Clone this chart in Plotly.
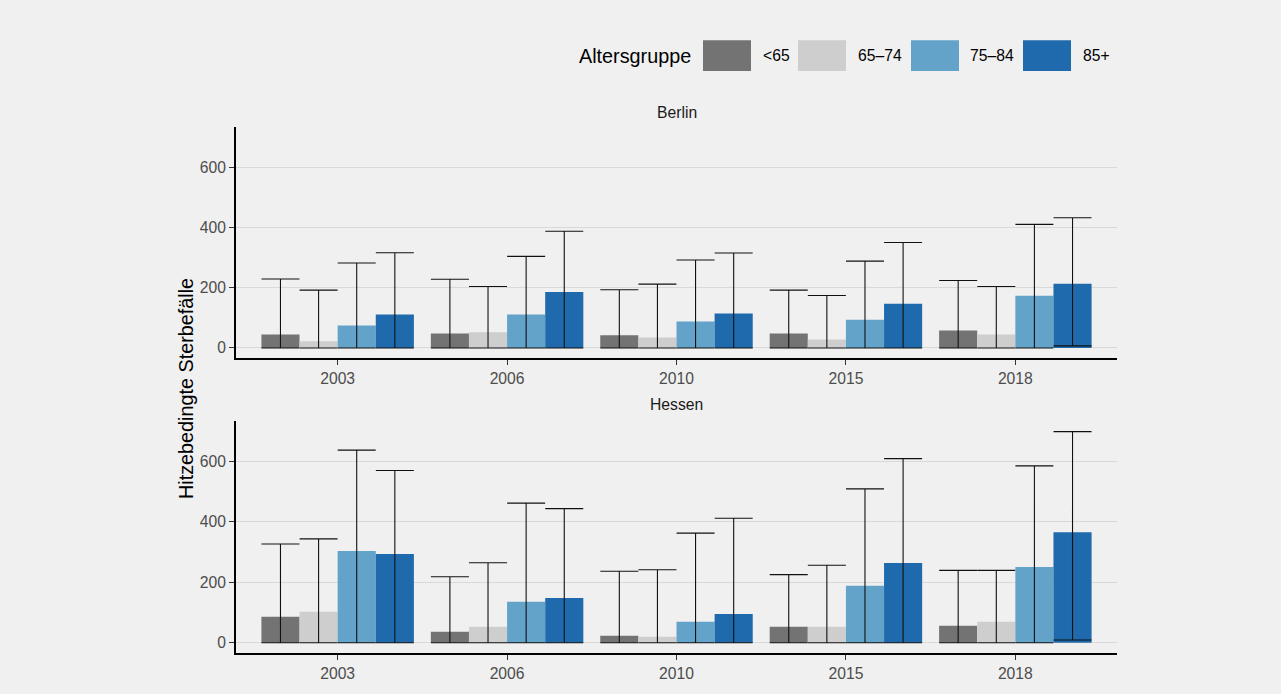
import plotly.graph_objects as go
from plotly.subplots import make_subplots

# ---------------- data ----------------
years = ["2003", "2006", "2010", "2015", "2018"]
groups = ["<65", "65\u201374", "75\u201384", "85+"]
colors = ["#737373", "#cecece", "#63a3ca", "#1f6aad"]

# Berlin: estimates and upper / lower bounds per age group
berlin_u65 = [45, 48, 42, 48, 58]
berlin_65_74 = [22, 52, 35, 28, 45]
berlin_75_84 = [75, 111, 88, 94, 173]
berlin_85p = [111, 186, 114, 147, 213]

berlin_u65_hi = [229, 228, 193, 192, 224]
berlin_65_74_hi = [192, 204, 212, 174, 204]
berlin_75_84_hi = [282, 304, 292, 288, 410]
berlin_85p_hi = [316, 387, 315, 350, 432]

berlin_u65_lo = [0, 0, 0, 0, 0]
berlin_65_74_lo = [0, 0, 0, 0, 0]
berlin_75_84_lo = [0, 0, 0, 0, 0]
berlin_85p_lo = [0, 0, 0, 0, 7]

# Hessen
hessen_u65 = [86, 36, 23, 53, 56]
hessen_65_74 = [102, 53, 20, 53, 69]
hessen_75_84 = [303, 135, 69, 188, 250]
hessen_85p = [293, 148, 95, 263, 365]

hessen_u65_hi = [326, 218, 236, 225, 239]
hessen_65_74_hi = [343, 264, 241, 256, 239]
hessen_75_84_hi = [636, 461, 362, 508, 584]
hessen_85p_hi = [569, 443, 411, 608, 697]

hessen_u65_lo = [0, 0, 0, 0, 0]
hessen_65_74_lo = [0, 0, 0, 0, 0]
hessen_75_84_lo = [0, 0, 0, 0, 0]
hessen_85p_lo = [0, 0, 0, 0, 9]

panels = [
    ("Berlin",
     [berlin_u65, berlin_65_74, berlin_75_84, berlin_85p],
     [berlin_u65_hi, berlin_65_74_hi, berlin_75_84_hi, berlin_85p_hi],
     [berlin_u65_lo, berlin_65_74_lo, berlin_75_84_lo, berlin_85p_lo]),
    ("Hessen",
     [hessen_u65, hessen_65_74, hessen_75_84, hessen_85p],
     [hessen_u65_hi, hessen_65_74_hi, hessen_75_84_hi, hessen_85p_hi],
     [hessen_u65_lo, hessen_65_74_lo, hessen_75_84_lo, hessen_85p_lo]),
]

# ---------------- layout geometry (pixels) ----------------
W, H = 1281, 694
L, R = 236, 1117
T, B = 127, 657
PW, PH = R - L, B - T
BG = "#f0f0f0"
FONT = "Liberation Sans, Arial, Helvetica, sans-serif"


def px_x(x):
    return (x - L) / PW


def px_y(y):
    return (B - y) / PH


fig = make_subplots(rows=2, cols=1)

for r, (name, vals, his, los) in enumerate(panels, start=1):
    for g, c, v, hi, lo in zip(groups, colors, vals, his, los):
        fig.add_trace(
            go.Bar(
                x=years, y=v, name=g, marker=dict(color=c, line=dict(width=0)),
                showlegend=False,
                error_y=dict(
                    type="data", symmetric=False,
                    array=[h - a for h, a in zip(hi, v)],
                    arrayminus=[a - l for a, l in zip(v, lo)],
                    color="#111111", thickness=1.1, width=19,
                ),
            ),
            row=r, col=1,
        )

axis_common = dict(
    showline=True, linecolor="black", linewidth=1.6,
    ticks="outside", ticklen=5, tickwidth=1.1, tickcolor="#333333",
    tickfont=dict(family=FONT, size=15.7, color="#4d4d4d"),
    zeroline=False,
)

domains = [(px_y(360), 1.0), (0.0, px_y(423))]
for i, dom in enumerate(domains, start=1):
    fig.update_layout(**{
        f"xaxis{'' if i == 1 else i}": dict(
            domain=[0, 1], type="category", range=[-0.6, 4.6],
            showgrid=False, **axis_common),
        f"yaxis{'' if i == 1 else i}": dict(
            domain=list(dom), range=[-34, 733],
            tickvals=[0, 200, 400, 600],
            showgrid=True, gridcolor="#d9d9d9", gridwidth=1.4,
            **axis_common),
    })

annotations = [
    dict(text="Berlin", x=0.5, y=px_y(112), xref="paper", yref="paper",
         showarrow=False, font=dict(family=FONT, size=15.7, color="#1a1a1a"),
         xanchor="center", yanchor="middle"),
    dict(text="Hessen", x=0.5, y=px_y(407), xref="paper", yref="paper",
         showarrow=False, font=dict(family=FONT, size=15.7, color="#1a1a1a"),
         xanchor="center", yanchor="middle"),
    dict(text="Hitzebedingte Sterbefälle", x=px_x(186), y=px_y(391),
         xref="paper", yref="paper", showarrow=False, textangle=-90,
         font=dict(family=FONT, size=19.8, color="black"),
         xanchor="center", yanchor="middle"),
    dict(text="Altersgruppe", x=px_x(693), y=px_y(55), xref="paper", yref="paper",
         showarrow=False, font=dict(family=FONT, size=19.8, color="black"),
         xanchor="right", yanchor="middle"),
]

# custom legend (large ggplot-style keys)
sw_left = [703, 798, 911, 1023]
lab_left = [761, 856, 968, 1081]
shapes = []
for g, c, sx, lx in zip(groups, colors, sw_left, lab_left):
    shapes.append(dict(type="rect", xref="paper", yref="paper",
                       x0=px_x(sx), x1=px_x(sx + 48), y0=px_y(70.5), y1=px_y(39.5),
                       fillcolor=c, line=dict(width=0)))
    annotations.append(dict(text=g, x=px_x(lx), y=px_y(55), xref="paper", yref="paper",
                            showarrow=False, xanchor="left", yanchor="middle",
                            font=dict(family=FONT, size=15.7, color="black")))

fig.update_layout(
    width=W, height=H,
    margin=dict(l=L, r=W - R, t=T, b=H - B, pad=0),
    paper_bgcolor=BG, plot_bgcolor=BG,
    barmode="group", bargap=0.1, bargroupgap=0,
    showlegend=False,
    annotations=annotations, shapes=shapes,
    font=dict(family=FONT),
)

fig.write_html(
    "out.html",
    config={"displayModeBar": False},
    post_script="document.body.style.margin='0';document.body.style.background='#f0f0f0';"
                "document.documentElement.style.background='#f0f0f0';",
)
